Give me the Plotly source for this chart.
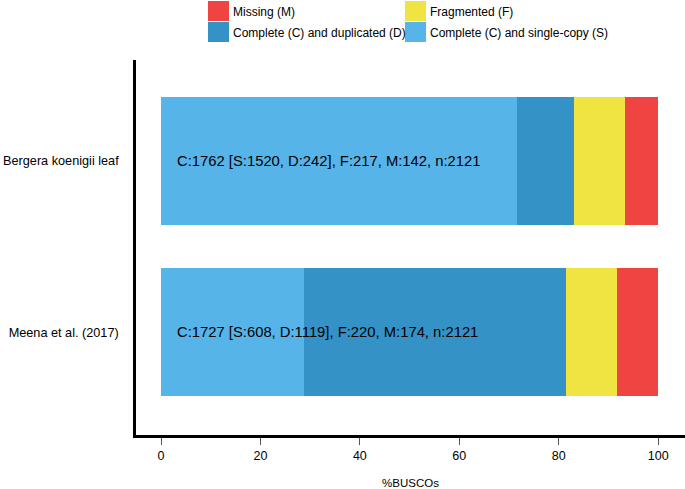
import plotly.graph_objects as go

samples = ["Meena et al. (2017)", "Bergera koenigii leaf"]
n_total = [2121, 2121]
single = [608, 1520]
duplicated = [1119, 242]
fragmented = [220, 217]
missing = [174, 142]

series_names = ["Complete (C) and single-copy (S)", "Complete (C) and duplicated (D)",
                "Fragmented (F)", "Missing (M)"]
series_colors = ["#56B4E9", "#3492C7", "#F0E442", "#F04442"]
series_counts = [single, duplicated, fragmented, missing]

fig = go.Figure()
for name, color, counts in zip(series_names, series_colors, series_counts):
    pct = [c / n * 100 for c, n in zip(counts, n_total)]
    fig.add_trace(go.Bar(
        y=samples, x=pct, orientation="h", name=name,
        marker=dict(color=color, line=dict(width=0)),
        width=0.75, showlegend=False, hoverinfo="x+name"
    ))

for i, s in enumerate(samples):
    c = single[i] + duplicated[i]
    txt = f"C:{c} [S:{single[i]}, D:{duplicated[i]}], F:{fragmented[i]}, M:{missing[i]}, n:{n_total[i]}"
    fig.add_annotation(x=2.9, y=s, text=txt, showarrow=False, xanchor="left",
                       font=dict(size=14.8, color="black"))

# custom legend (paper coords)
legend_items = [
    ("Missing (M)", "#F04442", 0),
    ("Fragmented (F)", "#F0E442", 1),
    ("Complete (C) and duplicated (D)", "#3492C7", 2),
    ("Complete (C) and single-copy (S)", "#56B4E9", 3),
]
W, H = 685, 489
L, R, T, B = 136, 0, 60, 54
pw, ph = W - L - R, H - T - B
def px2paper(x, y):
    return (x - L) / pw, (H - B - y) / ph
col_x = [208, 405]
row_y = [1, 22]
for label, color, k in legend_items:
    cx = col_x[k % 2]
    ry = row_y[k // 2]
    x0, y0 = px2paper(cx, ry)
    x1, y1 = px2paper(cx + 21, ry + 20)
    fig.add_shape(type="rect", xref="paper", yref="paper", x0=x0, x1=x1, y0=y1, y1=y0,
                  fillcolor=color, line=dict(width=0))
    tx, ty = px2paper(cx + 23, ry + 10.5)
    fig.add_annotation(xref="paper", yref="paper", x=tx, y=ty, text=label, showarrow=False,
                       xanchor="left", yanchor="middle", font=dict(size=12, color="black"))

fig.update_layout(
    barmode="stack",
    width=W, height=H,
    margin=dict(l=L, r=R, t=T, b=B, autoexpand=False),
    plot_bgcolor="white", paper_bgcolor="white",
    font=dict(family="Liberation Sans, Arial, sans-serif", size=12, color="black"),
    xaxis=dict(range=[-5.03, 105.4], tickvals=[0, 20, 40, 60, 80, 100], automargin=False,
               showgrid=False, zeroline=False, showline=True, linecolor="black", linewidth=2.5,
               ticks="outside", ticklen=7, tickcolor="#555555", tickwidth=1,
               tickfont=dict(size=12.5), title=dict(text="%BUSCOs", font=dict(size=11.5), standoff=20)),
    yaxis=dict(range=[-0.6, 1.59], showgrid=False, zeroline=False, showline=True, automargin=False,
               linecolor="black", linewidth=2.5, ticks="", ticklabelstandoff=12,
               tickfont=dict(size=12.7)),
)

fig.write_html("out.html", config={"displayModeBar": False},
               post_script="document.body.style.margin='0';document.body.style.padding='0';")
